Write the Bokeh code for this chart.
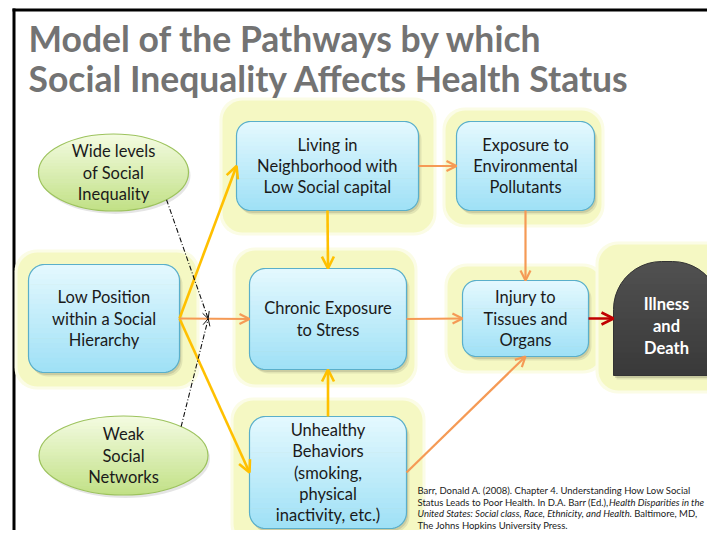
import numpy as np
from bokeh.plotting import figure
from bokeh.models import Range1d, Arrow, OpenHead, ColumnDataSource
from bokeh.core.properties import value
from bokeh.embed import file_html
from bokeh.resources import INLINE

# ---------------- data ----------------
title_lines = ["Model of the Pathways by which",
               "Social Inequality Affects Health Status"]

box_ids = ["living", "exposure", "low", "chronic", "injury", "unhealthy"]
ellipse_ids = ["wide", "weak"]
end_id = "illness"

node_labels = {
    "wide": ["Wide levels", "of Social", "Inequality"],
    "weak": ["Weak", "Social", "Networks"],
    "low": ["Low Position", "within a Social", "Hierarchy"],
    "living": ["Living in", "Neighborhood with", "Low Social capital"],
    "exposure": ["Exposure to", "Environmental", "Pollutants"],
    "chronic": ["Chronic Exposure", "to Stress"],
    "injury": ["Injury to", "Tissues and", "Organs"],
    "unhealthy": ["Unhealthy", "Behaviors", "(smoking,", "physical", "inactivity, etc.)"],
    "illness": ["Illness", "and", "Death"],
}

edge_src = ["low", "low", "living", "unhealthy", "low", "living", "exposure", "chronic", "unhealthy", "injury"]
edge_dst = ["living", "unhealthy", "chronic", "chronic", "chronic", "exposure", "injury", "injury", "injury", "illness"]
edge_kind = ["yellow", "yellow", "yellow", "yellow", "orange", "orange", "orange", "orange", "orange", "red"]

moderator_src = ["wide", "weak"]          # dash-dot influences on the low -> chronic pathway

citation_lines = [
    [("Barr, Donald A. (2008). Chapter 4. Understanding How Low Social", "normal")],
    [("Status Leads to Poor Health. In D.A. Barr (Ed.),", "normal"), ("Health Disparities in the", "italic")],
    [("United States: Social class, Race, Ethnicity, and Health", "italic"), (". Baltimore, MD,", "normal")],
    [("The Johns Hopkins University Press.", "normal")],
]

# ---------------- layout (screen pixels, y downwards) ----------------
W, H = 707, 530
OX, OY = 0, 0

box_geom = {  # x0, x1, top, bottom, radius
    "living": (236, 418, 121, 210, 14),
    "exposure": (456, 594, 121, 210, 14),
    "low": (28, 179, 264, 372, 16),
    "chronic": (249, 406, 268, 369, 16),
    "injury": (462, 588, 280, 356, 14),
    "unhealthy": (249, 406, 416, 528, 16),
}
illness_geom = (613, 720, 261, 375, 48)
ellipse_geom = {"wide": (113, 172, 75, 38.5), "weak": (123, 455, 84.5, 39.5)}
glow_geom = {
    "living": (222, 433, 100, 232),
    "exposure": (445, 601, 110, 224),
    "low": (17, 196, 252, 386),
    "chronic": (235, 414, 250, 384),
    "injury": (447, 602, 266, 370),
    "illness": (598, 735, 244, 390),
    "unhealthy": (233, 422, 400, 543),
}
edge_sides = [("right", "left"), ("right", "left"), ("bottom", "top"), ("top", "bottom"),
              ("right", "left"), ("right", "left"), ("bottom", "top"), ("right", "left"),
              ("right", "bottom"), ("right", "left")]
moderator_angle = {"wide": 45, "weak": -47}
moderator_t = 0.41

styles = {
    "yellow": dict(color="#ffc000", width=2.6, size=12),
    "orange": dict(color="#f59a55", width=2.2, size=10),
    "red": dict(color="#c00000", width=2.6, size=12),
}
title_y = [38, 78]
# citation text positions (left x of each segment)
cit_x = [[417], [417, 608.5], [417, 629], [417]]
cit_y0, cit_dy = 490, 11.5

FONT = value("Lato")

p = figure(width=W, height=H, x_range=Range1d(OX, OX + W), y_range=Range1d(OY + H, OY),
           x_axis_type=None, y_axis_type=None, output_backend="svg",
           toolbar_location=None, min_border=0)
p.outline_line_color = None
p.background_fill_color = "white"
p.border_fill_color = "white"


def hex_rgb(h):
    h = h.lstrip("#")
    return tuple(int(h[i:i + 2], 16) for i in (0, 2, 4))


def mix(c1, c2, f):
    a, b = hex_rgb(c1), hex_rgb(c2)
    return "#%02x%02x%02x" % tuple(int(round(a[i] + (b[i] - a[i]) * f)) for i in range(3))


def rr_poly(x0, x1, t, b, rt, rb=None, n=12):
    rb = rt if rb is None else rb
    xs, ys = [], []
    for cx, cy, r, a0 in [(x0 + rt, t + rt, rt, np.pi), (x1 - rt, t + rt, rt, 1.5 * np.pi),
                          (x1 - rb, b - rb, rb, 0.0), (x0 + rb, b - rb, rb, 0.5 * np.pi)]:
        for a in np.linspace(a0, a0 + 0.5 * np.pi, n):
            xs.append(cx + r * np.cos(a))
            ys.append(cy + r * np.sin(a))
    return xs, ys


def rr_extent(x0, x1, t, b, rt, rb):
    def f(y):
        ins = 0.0
        if y < t + rt:
            d = t + rt - y
            ins = rt - np.sqrt(max(rt * rt - d * d, 0))
        elif y > b - rb:
            d = y - (b - rb)
            ins = rb - np.sqrt(max(rb * rb - d * d, 0))
        return x0 + ins, x1 - ins
    return f


def ell_extent(cx, cy, a, bb):
    def f(y):
        v = 1 - ((y - cy) / bb) ** 2
        hw = a * np.sqrt(max(v, 0))
        return cx - hw, cx + hw
    return f


def strips(extent, t, b, n, c_top, c_bot):
    xs_all, ys_all, cols = [], [], []
    edges = np.linspace(t, b, n + 1)
    for i in range(n):
        ya, yb = edges[i], min(edges[i + 1] + 0.7, b)
        yy = np.linspace(ya, yb, 7)
        L = [extent(y)[0] for y in yy]
        R = [extent(y)[1] for y in yy[::-1]]
        xs_all.append(L + R)
        ys_all.append(list(yy) + list(yy[::-1]))
        cols.append(mix(c_top, c_bot, i / (n - 1)))
    return xs_all, ys_all, cols


# frame
p.line(x=[12, OX + W + 2], y=[9.5, 9.5], line_color="black", line_width=3)
p.line(x=[13.5, 13.5], y=[8, OY + H + 2], line_color="black", line_width=3)

# glows
for k, (x0, x1, t, b) in glow_geom.items():
    xs, ys = rr_poly(x0 - 3, x1 + 3, t - 3, b + 3, 22)
    p.patch(xs, ys, fill_color="#fbfce6", line_color=None)
    xs, ys = rr_poly(x0, x1, t, b, 20)
    p.patch(xs, ys, fill_color="#f5f8c3", line_color=None)

# title (drawn over the glows)
for i, line in enumerate(title_lines):
    p.text(x=[28], y=[title_y[i]], text=[line], text_font=FONT, text_font_style="bold",
           text_font_size="35.5px", text_color="#737373", text_baseline="alphabetic", text_align="left")

# shadows
for k in box_ids:
    x0, x1, t, b, r = box_geom[k]
    for dx, dy, al in [(1.5, 2.5, 0.10), (3, 4, 0.08)]:
        xs, ys = rr_poly(x0 + dx, x1 + dx, t + dy, b + dy, r)
        p.patch(xs, ys, fill_color="black", fill_alpha=al, line_color=None)
for k in ellipse_ids:
    cx, cy, a, bb = ellipse_geom[k]
    p.ellipse(x=[cx + 2], y=[cy + 3], width=[2 * a], height=[2 * bb], fill_color="black",
              fill_alpha=0.10, line_color=None)
x0, x1, t, b, r = illness_geom
for dx, dy, al in [(1.5, 2.5, 0.12), (3, 4, 0.08)]:
    xs, ys = rr_poly(x0 + dx, x1 + dx, t + dy, b + dy, r, 0)
    p.patch(xs, ys, fill_color="black", fill_alpha=al, line_color=None)

# boxes
for k in box_ids:
    x0, x1, t, b, r = box_geom[k]
    sx, sy, sc = strips(rr_extent(x0, x1, t, b, r, r), t, b, 22, "#e3f8fe", "#a0e1f6")
    p.patches(sx, sy, fill_color=sc, line_color=None)
    xs, ys = rr_poly(x0, x1, t, b, r)
    p.patch(xs, ys, fill_color=None, line_color="#5aafca", line_width=1.2)

# ellipses
for k in ellipse_ids:
    cx, cy, a, bb = ellipse_geom[k]
    sx, sy, sc = strips(ell_extent(cx, cy, a, bb), cy - bb, cy + bb, 24, "#f3fbe0", "#c2e187")
    p.patches(sx, sy, fill_color=sc, line_color=None)
    p.ellipse(x=[cx], y=[cy], width=[2 * a], height=[2 * bb], fill_color=None,
              line_color="#9dc35e", line_width=1.2)

# tombstone
x0, x1, t, b, r = illness_geom
sx, sy, sc = strips(rr_extent(x0, x1, t, b, r, 0), t, b, 20, "#505050", "#3a3a3a")
p.patches(sx, sy, fill_color=sc, line_color=None)
xs, ys = rr_poly(x0, x1, t, b, r, 0)
p.patch(xs, ys, fill_color=None, line_color="#333333", line_width=1)


# arrows
def anchor(node, side):
    if node == end_id:
        x0, x1, t, b, _ = illness_geom
    else:
        x0, x1, t, b, _ = box_geom[node]
    cx, cy = (x0 + x1) / 2, (t + b) / 2
    return {"left": (x0, cy), "right": (x1, cy), "top": (cx, t), "bottom": (cx, b)}[side]


for kind in ["yellow", "orange", "red"]:
    d = dict(x_start=[], y_start=[], x_end=[], y_end=[])
    for s, e, kd, (ss, es) in zip(edge_src, edge_dst, edge_kind, edge_sides):
        if kd != kind:
            continue
        (xa, ya), (xb, yb) = anchor(s, ss), anchor(e, es)
        d["x_start"].append(xa); d["y_start"].append(ya)
        d["x_end"].append(xb); d["y_end"].append(yb)
    st = styles[kind]
    p.add_layout(Arrow(end=OpenHead(size=st["size"], line_color=st["color"], line_width=st["width"]),
                       source=ColumnDataSource(d), x_start="x_start", y_start="y_start",
                       x_end="x_end", y_end="y_end", line_color=st["color"], line_width=st["width"]))

# dash-dot moderators
i_lc = [i for i in range(len(edge_src)) if edge_src[i] == "low" and edge_dst[i] == "chronic"][0]
(xa, ya), (xb, yb) = anchor("low", edge_sides[i_lc][0]), anchor("chronic", edge_sides[i_lc][1])
tx, ty = xa + (xb - xa) * moderator_t, ya + (yb - ya) * moderator_t
md = dict(x_start=[], y_start=[], x_end=[], y_end=[])
for k in moderator_src:
    cx, cy, a, bb = ellipse_geom[k]
    th = np.radians(moderator_angle[k])
    md["x_start"].append(cx + a * np.cos(th)); md["y_start"].append(cy + bb * np.sin(th))
    md["x_end"].append(tx); md["y_end"].append(ty)
p.add_layout(Arrow(end=OpenHead(size=7, line_color="#111111", line_width=1),
                   source=ColumnDataSource(md), x_start="x_start", y_start="y_start",
                   x_end="x_end", y_end="y_end", line_color="#111111", line_width=1.1,
                   line_dash="5 2 1 2"))

# labels
for k, lines in node_labels.items():
    if k in ellipse_ids:
        cx, cy, _, _ = ellipse_geom[k]
        sp = 21.5
        col, style, size = "#1a1a1a", "normal", "16.5px"
    elif k == end_id:
        x0, x1, t, b, _ = illness_geom
        cx, cy = (x0 + x1) / 2 - 0.5, (t + b) / 2 + 7
        sp = 22
        col, style, size = "white", "bold", "16.5px"
    else:
        x0, x1, t, b, _ = box_geom[k]
        cx, cy = (x0 + x1) / 2, (t + b) / 2
        sp = 21.2
        col, style, size = "#1a1a1a", "normal", "16.5px"
    n = len(lines)
    ys = [cy + (j - (n - 1) / 2) * sp for j in range(n)]
    p.text(x=[cx] * n, y=ys, text=lines, text_font=FONT, text_font_style=style,
           text_font_size=size, text_color=col, text_align="center", text_baseline="middle")

# citation
for j, parts in enumerate(citation_lines):
    y = cit_y0 + cit_dy * j
    for q, (txt, st) in enumerate(parts):
        p.text(x=[cit_x[j][q]], y=[y], text=[txt], text_font=FONT, text_font_style=st,
               text_font_size="9.5px", text_color="#1a1a1a", text_align="left", text_baseline="middle")

open("out.html", "w").write(file_html(p, INLINE))
